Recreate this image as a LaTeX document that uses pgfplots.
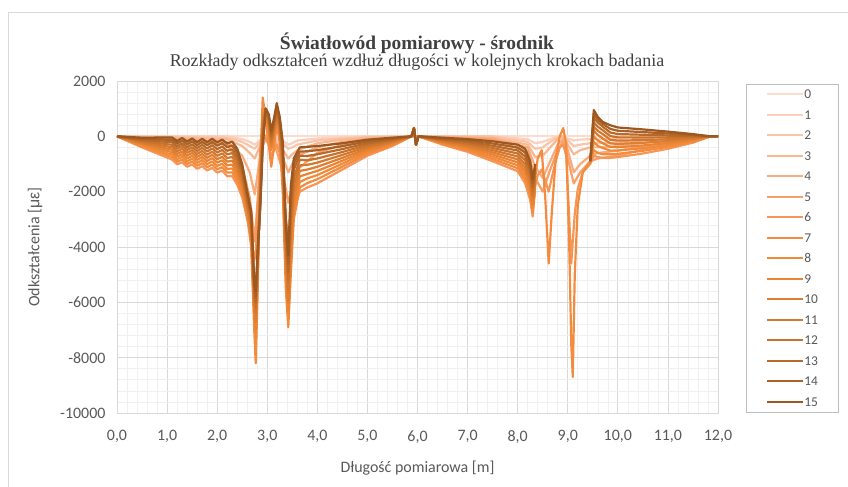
\documentclass[border=0pt]{standalone}
\usepackage{fontspec}
\usepackage{pgfplots}
\usepackage{pgfplotstable}
\pgfplotsset{compat=1.18}
\newfontfamily\carlito{Carlito}
\newfontfamily\greekfont{Liberation Sans}
\newfontfamily\titlefont{Liberation Serif}
\definecolor{c0}{HTML}{FCDCCC}
\definecolor{c1}{HTML}{FBD0BC}
\definecolor{c2}{HTML}{FAC4A8}
\definecolor{c3}{HTML}{F9B892}
\definecolor{c4}{HTML}{F8AC7E}
\definecolor{c5}{HTML}{F7A068}
\definecolor{c6}{HTML}{F69656}
\definecolor{c7}{HTML}{F48C40}
\definecolor{c8}{HTML}{F08A38}
\definecolor{c9}{HTML}{E88434}
\definecolor{c10}{HTML}{DE7E30}
\definecolor{c11}{HTML}{D4782E}
\definecolor{c12}{HTML}{C8722C}
\definecolor{c13}{HTML}{BA6A28}
\definecolor{c14}{HTML}{AC6226}
\definecolor{c15}{HTML}{9C5820}
\definecolor{majgrid}{HTML}{D9D9D9}
\definecolor{mingrid}{HTML}{F0F0F0}
\definecolor{labgray}{HTML}{595959}
\definecolor{titlegray}{HTML}{404040}
\definecolor{bordergray}{HTML}{D9D9D9}
\definecolor{legendgray}{HTML}{BFBFBF}

\pgfplotstableread{
x s6 s7 s8 s9 s10 s11 s12 s13 s14 s15
0.0 0 0 0 0 0 0 0 0 0 0
0.5 -400 -361 -322 -283 -244 -206 -167 -128 -89 -50
1.1 -840 -751 -662 -573 -484 -396 -307 -218 -129 -40
1.2 -1010 -917 -823 -730 -637 -543 -450 -357 -263 -170
1.3 -940 -842 -744 -647 -549 -451 -353 -256 -158 -60
1.4 -1100 -999 -898 -797 -696 -594 -493 -392 -291 -190
1.5 -1020 -916 -811 -707 -602 -498 -393 -289 -184 -80
1.6 -1170 -1063 -957 -850 -743 -637 -530 -423 -317 -210
1.7 -1080 -970 -860 -750 -640 -530 -420 -310 -200 -90
1.8 -1230 -1117 -1003 -890 -777 -663 -550 -437 -323 -210
1.9 -1140 -1023 -907 -790 -673 -557 -440 -323 -207 -90
2.0 -1310 -1189 -1068 -947 -826 -704 -583 -462 -341 -220
2.1 -1240 -1116 -991 -867 -742 -618 -493 -369 -244 -120
2.2 -1440 -1309 -1178 -1047 -916 -784 -653 -522 -391 -260
2.3 -1440 -1301 -1162 -1023 -884 -746 -607 -468 -329 -190
2.4 -1750 -1606 -1461 -1317 -1172 -1028 -883 -739 -594 -450
2.5 -2200 -2067 -1933 -1800 -1667 -1533 -1400 -1267 -1133 -1000
2.6 -3000 -2889 -2778 -2667 -2556 -2444 -2333 -2222 -2111 -2000
2.68 -3600 -4000 -3800 -3600 -3400 -3200 -3000 -2900 -2800 -2700
2.74 -4500 -7000 -6500 -6200 -6000 -5800 -5600 -5500 -5400 -5300
2.77 -4200 -8200 -7500 -7000 -6700 -6400 -6200 -6000 -5800 -5600
2.81 -2500 -5500 -5000 -4800 -4600 -4500 -4400 -4300 -4200 -4000
2.86 -500 -1000 -1500 -1600 -1800 -2000 -2200 -2400 -2500 -2600
2.91 200 1400 1000 800 600 400 200 0 -200 -400
2.97 -100 600 900 950 1000 1000 1000 1000 1000 1000
3.03 -300 -300 200 300 400 500 600 700 750 800
3.08 -700 -1100 -500 -400 -300 -200 -100 0 100 200
3.14 -500 -300 0 100 200 300 400 500 600 700
3.19 -300 400 500 600 700 800 900 1000 1100 1200
3.25 -600 -200 0 100 200 300 400 500 600 700
3.31 -1500 -2000 -1600 -1400 -1200 -1000 -800 -600 -400 -200
3.37 -3000 -5500 -5000 -4600 -4300 -4000 -3700 -3400 -3200 -3000
3.42 -3500 -6900 -6600 -6300 -6000 -5600 -5200 -4900 -4600 -4300
3.47 -3300 -5000 -4600 -4200 -3800 -3400 -3000 -2600 -2200 -1800
3.53 -2600 -3000 -2700 -2400 -2100 -1800 -1500 -1200 -1000 -800
3.65 -2000 -1850 -1650 -1450 -1250 -1050 -850 -700 -550 -400
3.8 -1850 -1690 -1520 -1360 -1200 -1030 -870 -710 -540 -380
4.0 -1700 -1550 -1400 -1250 -1100 -950 -800 -650 -500 -350
4.5 -1200 -1094 -989 -883 -778 -672 -567 -461 -356 -250
5.0 -700 -636 -571 -507 -442 -378 -313 -249 -184 -120
5.5 -350 -317 -283 -250 -217 -183 -150 -117 -83 -50
5.88 0 0 0 0 0 0 0 0 0 0
5.93 200 220 240 260 280 300 300 300 300 300
5.97 -300 -300 -300 -300 -300 -300 -300 -300 -300 -300
6.02 0 0 0 0 0 0 0 0 0 0
6.5 -300 -272 -244 -217 -189 -161 -133 -106 -78 -50
7.0 -560 -509 -458 -407 -356 -304 -253 -202 -151 -100
7.5 -900 -820 -740 -660 -580 -500 -420 -340 -260 -180
8.0 -1260 -1153 -1047 -940 -833 -727 -620 -513 -407 -300
8.15 -1700 -1561 -1422 -1283 -1144 -1006 -867 -728 -589 -450
8.25 -2300 -2144 -1989 -1833 -1678 -1522 -1367 -1211 -1056 -900
8.3 -2900 -2750 -2600 -2450 -2300 -2150 -2000 -1850 -1700 -1550
8.35 -1800 -1500 -2000 -1857 -1714 -1571 -1429 -1286 -1143 -1000
8.4 -1400 -800 nan nan nan nan nan nan nan nan
8.48 -1200 -500 nan nan nan nan nan nan nan nan
8.55 -1600 -2200 nan nan nan nan nan nan nan nan
8.62 -2000 -4600 nan nan nan nan nan nan nan nan
8.68 -1500 -2800 nan nan nan nan nan nan nan nan
8.76 -900 -800 nan nan nan nan nan nan nan nan
8.84 -400 0 nan nan nan nan nan nan nan nan
8.91 -300 300 nan nan nan nan nan nan nan nan
8.97 -700 -300 nan nan nan nan nan nan nan nan
9.03 -3000 -4000 nan nan nan nan nan nan nan nan
9.07 -4600 -7500 nan nan nan nan nan nan nan nan
9.1 -3800 -8700 nan nan nan nan nan nan nan nan
9.14 -2800 -5000 nan nan nan nan nan nan nan nan
9.2 -1900 -2500 nan nan nan nan nan nan nan nan
9.3 -1300 -1300 nan nan nan nan nan nan nan nan
9.45 -1000 -900 -900 -900 -900 -900 -900 -900 -900 -900
9.52 -700 -500 -200 0 200 350 500 650 800 950
9.6 -750 -600 -350 -150 50 200 350 500 600 700
9.7 -780 -650 -420 -250 -80 80 220 350 450 520
9.85 -780 -649 -518 -387 -256 -124 7 138 269 400
10.0 -750 -631 -512 -393 -274 -155 -37 82 201 320
10.5 -620 -523 -427 -330 -233 -137 -40 57 153 250
11.0 -450 -381 -312 -243 -174 -106 -37 32 101 170
11.5 -230 -196 -161 -127 -92 -58 -23 11 46 80
11.85 0 0 0 0 0 0 0 0 0 0
12.0 0 0 0 0 0 0 0 0 0 0
}\slopetab

\pgfplotstableread{
x s1 s2 s3 s4 s5
0.0 0 0 0 0 0
2.2 0 -50 -100 -200 -300
2.5 -100 -200 -350 -700 -1100
2.65 -200 -350 -600 -1300 -2200
2.75 -300 -450 -800 -2100 -3800
2.82 -200 -300 -500 -1200 -2000
2.9 -50 -100 -150 -300 -400
3.0 0 0 0 0 100
3.15 -50 -80 -150 -200 -300
3.3 -150 -250 -450 -700 -1200
3.42 -300 -450 -800 -1300 -2400
3.5 -250 -400 -650 -1000 -1800
3.6 -150 -300 -500 -700 -1200
4.0 -80 -150 -250 -400 -600
4.5 -40 -80 -120 -200 -300
5.0 0 -30 -50 -100 -150
5.9 0 0 0 0 0
7.5 0 0 -50 -80 -120
8.2 -100 -200 -300 -400 -550
8.35 -250 -450 -750 -1100 -1500
8.5 -200 -400 -700 -1500 -2000
8.65 -100 -200 -400 -900 -1200
8.8 0 -50 -100 -300 -500
8.9 0 0 0 -100 -200
9.0 -80 -150 -300 -500 -800
9.12 -150 -350 -650 -1300 -1700
9.25 -120 -300 -500 -1000 -1300
9.45 -100 -250 -400 -700 -900
9.6 -100 -250 -400 -600 -800
10.0 -90 -220 -350 -520 -700
10.5 -60 -150 -240 -360 -480
11.0 -40 -100 -160 -240 -320
11.5 -15 -40 -60 -90 -120
11.8 0 0 0 0 0
12.0 0 0 0 0 0
}\lighttab

\begin{document}
\begin{tikzpicture}
\useasboundingbox (0bp,0bp) rectangle (848bp,487bp);
\draw[draw=bordergray, line width=0.8bp] (8bp,-2bp) rectangle (850bp,475bp);
\node[font=\titlefont\bfseries\fontsize{19.5}{19.5}\selectfont, text=titlegray, anchor=base, inner sep=0pt] at (417bp,437bp) {Światłowód pomiarowy - środnik};
\node[font=\titlefont\fontsize{18}{18}\selectfont, text=titlegray, anchor=base, inner sep=0pt] at (417bp,420bp) {Rozkłady odkształceń wzdłuż długości w kolejnych krokach badania};
\begin{axis}[
  at={(117bp,74bp)}, anchor=south west,
  scale only axis, width=601bp, height=332bp,
  xmin=0, xmax=12, ymin=-10000, ymax=2000,
  scaled y ticks=false, scaled x ticks=false,
  xtick={0,1,...,12},
  xticklabels={{0,0},{1,0},{2,0},{3,0},{4,0},{5,0},{6,0},{7,0},{8,0},{9,0},{10,0},{11,0},{12,0}},
  ytick={-10000,-8000,-6000,-4000,-2000,0,2000},
  yticklabels={-10000,-8000,-6000,-4000,-2000,0,2000},
  minor x tick num=4, minor y tick num=4,
  grid=both,
  major grid style={draw=majgrid, line width=0.8bp},
  minor grid style={draw=mingrid, line width=0.6bp},
  axis line style={draw=majgrid, line width=0.8bp},
  major tick length=0pt, minor tick length=0pt,
  tick label style={font=\carlito\fontsize{16}{16}\selectfont, text=labgray},
  xticklabel style={yshift=-14bp},
  yticklabel style={xshift=-8bp},
  xlabel={Długość pomiarowa [m]},
  ylabel={Odkształcenia [{\greekfont με}]},
  every axis x label/.style={at={(axis description cs:0.5,-0.1657)}, anchor=center, font=\carlito\fontsize{16}{16}\selectfont, text=labgray},
  every axis y label/.style={at={(axis description cs:-0.1364,0.5)}, rotate=90, anchor=center, font=\carlito\fontsize{16}{16}\selectfont, text=labgray},
  unbounded coords=jump,
  legend style={at={(axis description cs:1.0466,0.991)}, anchor=north west,
    draw=legendgray, line width=0.8bp, fill=white,
    inner xsep=20bp, inner ysep=0pt, row sep=0pt,
    font=\carlito\fontsize{13.5}{13.5}\selectfont, text=labgray,
    nodes={inner sep=0pt, text height=14.5bp, text depth=6bp},
    /tikz/every even column/.append style={column sep=5bp}},
  legend cell align=left,
  legend image code/.code={\draw[#1, line width=2bp] (0bp,0.5bp) -- (36bp,0.5bp);},
  every axis plot/.append style={line width=2.2bp, line join=round, mark=none},
]
\addplot[c0] coordinates {(0,0) (12,0)};
\addlegendentry{0}
\addplot[c1] table[x=x,y=s1]{\lighttab};
\addlegendentry{1}
\addplot[c2] table[x=x,y=s2]{\lighttab};
\addlegendentry{2}
\addplot[c3] table[x=x,y=s3]{\lighttab};
\addlegendentry{3}
\addplot[c4] table[x=x,y=s4]{\lighttab};
\addlegendentry{4}
\addplot[c5] table[x=x,y=s5]{\lighttab};
\addlegendentry{5}
\addplot[c6] table[x=x,y=s6]{\slopetab};
\addlegendentry{6}
\addplot[c7] table[x=x,y=s7]{\slopetab};
\addlegendentry{7}
\addplot[c8] table[x=x,y=s8]{\slopetab};
\addlegendentry{8}
\addplot[c9] table[x=x,y=s9]{\slopetab};
\addlegendentry{9}
\addplot[c10] table[x=x,y=s10]{\slopetab};
\addlegendentry{10}
\addplot[c11] table[x=x,y=s11]{\slopetab};
\addlegendentry{11}
\addplot[c12] table[x=x,y=s12]{\slopetab};
\addlegendentry{12}
\addplot[c13] table[x=x,y=s13]{\slopetab};
\addlegendentry{13}
\addplot[c14] table[x=x,y=s14]{\slopetab};
\addlegendentry{14}
\addplot[c15] table[x=x,y=s15]{\slopetab};
\addlegendentry{15}
\end{axis}
\end{tikzpicture}
\end{document}
